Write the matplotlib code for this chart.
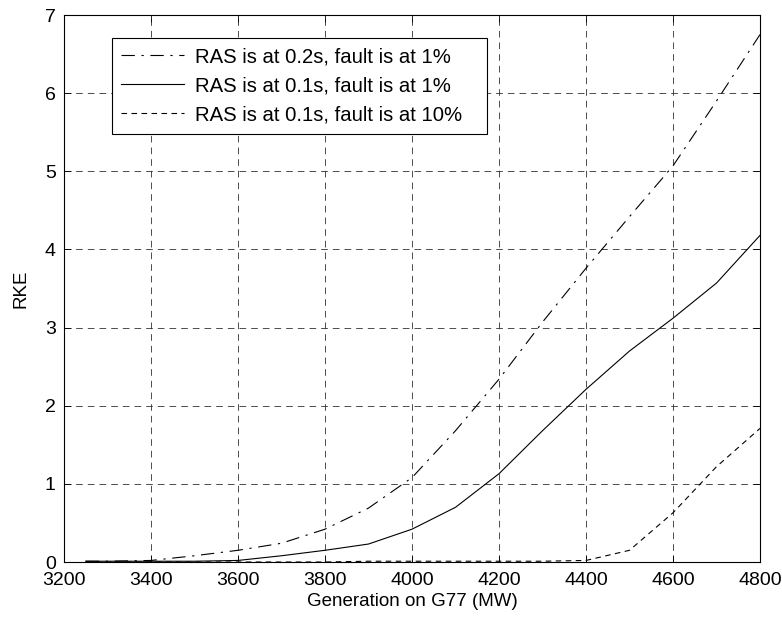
import matplotlib
matplotlib.use('Agg')
import matplotlib.pyplot as plt

plt.rcParams['font.family'] = ['Liberation Sans', 'DejaVu Sans']

# Generation on G77 (MW)
gen = [3250, 3300, 3400, 3500, 3600, 3700, 3800, 3900, 4000, 4100, 4200, 4300, 4400, 4500, 4600, 4700, 4800]

# RKE values
rke_02s_1pct = [0.01, 0.01, 0.02, 0.08, 0.15, 0.24, 0.42, 0.69, 1.08, 1.68, 2.34, 3.07, 3.76, 4.42, 5.07, 5.90, 6.75]
rke_01s_1pct = [0.01, 0.01, 0.01, 0.01, 0.02, 0.08, 0.15, 0.23, 0.42, 0.70, 1.13, 1.68, 2.21, 2.70, 3.12, 3.57, 4.18]
rke_01s_10pct = [0.0, 0.0, 0.0, 0.0, 0.0, 0.0, 0.0, 0.01, 0.01, 0.01, 0.01, 0.01, 0.02, 0.15, 0.63, 1.22, 1.71]

labels = ['RAS is at 0.2s, fault is at 1%',
          'RAS is at 0.1s, fault is at 1%',
          'RAS is at 0.1s, fault is at 10%']

fig = plt.figure(figsize=(7.82, 6.18), dpi=100)
ax = fig.add_axes([0.0818, 0.0906, 0.8901, 0.8851])

ax.plot(gen, rke_02s_1pct, color='black', lw=0.8, linestyle=(0, (12, 6, 2, 6)), label=labels[0])
ax.plot(gen, rke_01s_1pct, color='black', lw=0.8, linestyle='-', label=labels[1])
ax.plot(gen, rke_01s_10pct, color='black', lw=0.8, linestyle=(0, (5, 4)), label=labels[2])

ax.set_xlim(3200, 4800)
ax.set_ylim(0, 7)
ax.set_xticks(range(3200, 4801, 200))
ax.set_yticks(range(0, 8))
ax.grid(True, color='#303030', linestyle=(0, (8, 6)), linewidth=0.6)
ax.tick_params(direction='in', top=True, right=True, labelsize=14, length=5, width=0.6)
ax.tick_params(axis='x', pad=7)
ax.tick_params(axis='y', pad=6)
for s in ax.spines.values():
    s.set_linewidth(0.8)

ax.set_xlabel('Generation on G77 (MW)', fontsize=13.5, labelpad=3)
ax.set_ylabel('RKE', fontsize=13.5, labelpad=11)

# legend box stretched to the reference width
leg = ax.legend(loc='upper left', bbox_to_anchor=(0.069, 0.5, 0.539, 0.458), mode='expand',
                fontsize=14.6, fancybox=False, framealpha=1, edgecolor='black',
                handlelength=3.1, borderpad=0.45, labelspacing=0.5, handletextpad=0.55,
                borderaxespad=0)
leg.get_frame().set_linewidth(0.8)

fig.savefig('out.png', dpi=100)
